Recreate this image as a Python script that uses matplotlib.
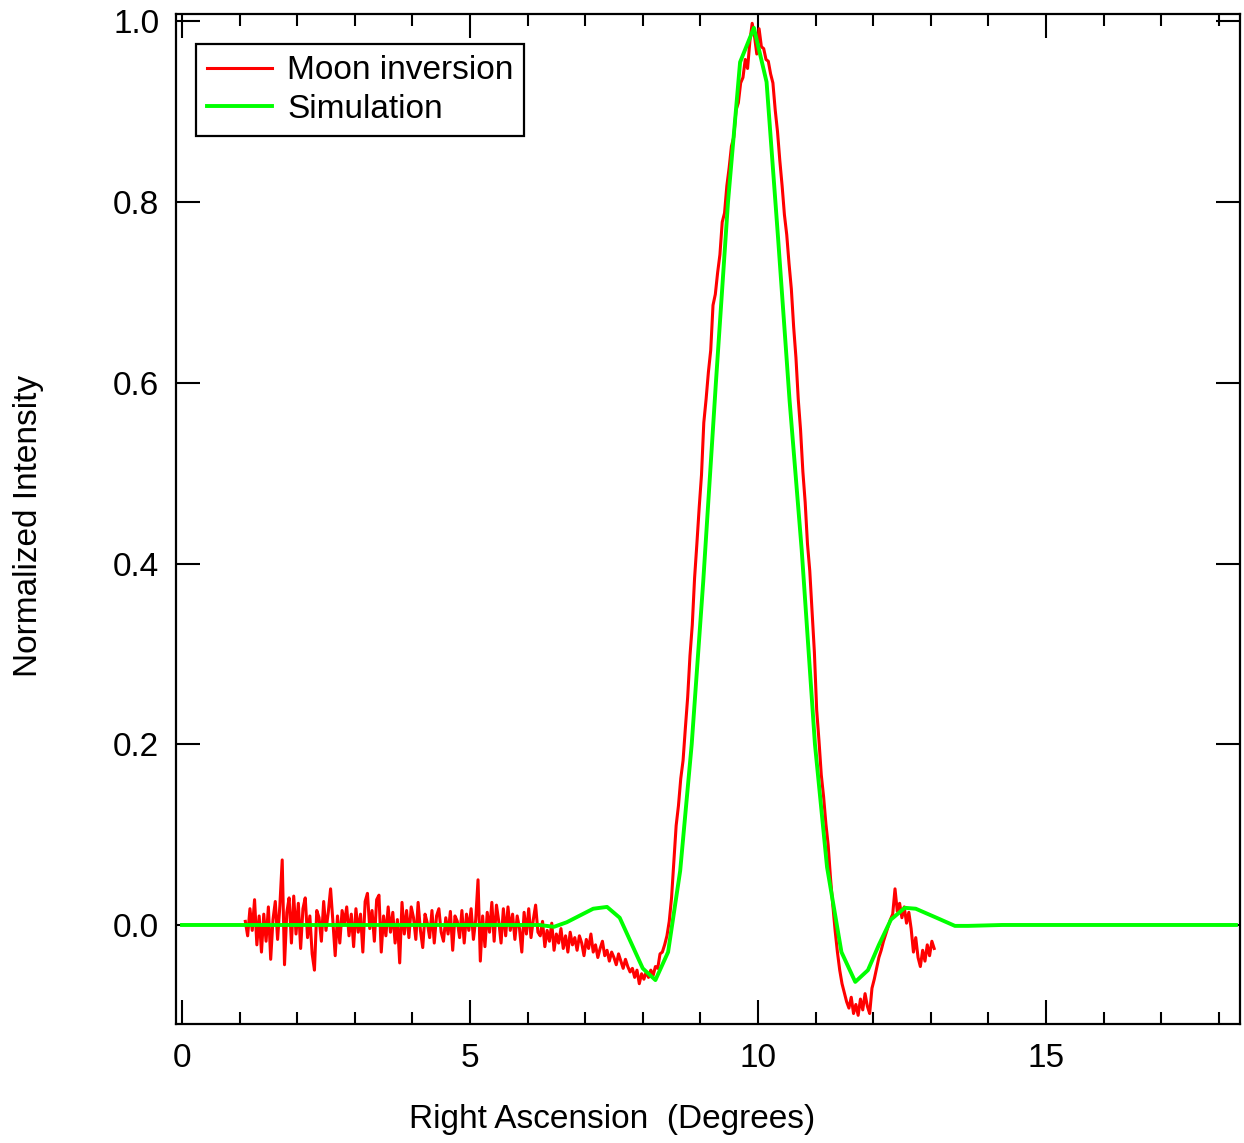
"""
Moon inversion vs simulation profile
"""
import numpy as np
import matplotlib
matplotlib.use("Agg")
import matplotlib.pyplot as plt

# Moon inversion (noisy measured profile), sampled every 0.04 deg from 1.10 to 13.06
moon_base = [  # 1.10 .. 6.18
    0.004, -0.012, 0.018, -0.006, 0.028, -0.022, 0.010, -0.030,
    0.012, -0.018, 0.020, -0.038, 0.006, 0.026, -0.016, 0.022,
    0.072, -0.044, 0.014, 0.030, -0.020, 0.032, -0.010, 0.024,
    -0.026, 0.018, 0.030, -0.014, 0.010, -0.032, -0.050, 0.016,
    0.008, -0.018, 0.026, -0.006, 0.014, 0.040, 0.004, -0.034,
    0.010, -0.020, 0.016, 0.002, 0.020, -0.012, 0.012, -0.024,
    0.018, -0.008, 0.012, -0.030, 0.026, 0.035, -0.004, 0.016,
    -0.018, 0.028, 0.033, -0.030, 0.010, -0.012, 0.020, -0.008,
    0.014, -0.020, 0.006, -0.042, 0.025, -0.010, 0.016, -0.014,
    0.020, 0.008, -0.016, 0.025, -0.006, -0.025, 0.012, 0.002,
    -0.014, 0.016, -0.020, 0.010, 0.018, -0.008, -0.018, 0.008,
    -0.010, 0.015, -0.028, 0.010, 0.004, -0.014, 0.016, -0.020,
    0.012, -0.006, 0.018, -0.016, 0.006, 0.050, -0.040, 0.010,
    -0.024, 0.014, -0.008, 0.025, -0.018, 0.022, 0.004, -0.020,
    0.018, -0.012, 0.020, -0.006, 0.012, -0.016, 0.010, -0.004,
    -0.030, 0.014, -0.010, 0.018, -0.014, 0.006, 0.022, -0.008,
]
moon_drift = [  # 6.22 .. 8.30
    -0.012, 0.004, -0.024, -0.006, -0.018, 0.002, -0.028, -0.010,
    -0.020, -0.004, -0.026, -0.012, -0.030, -0.008, -0.022, -0.014,
    -0.028, -0.012, -0.020, -0.034, -0.016, -0.026, -0.010, -0.030,
    -0.022, -0.036, -0.026, -0.018, -0.034, -0.028, -0.040, -0.030,
    -0.036, -0.044, -0.032, -0.040, -0.048, -0.038, -0.046, -0.052,
    -0.048, -0.058, -0.050, -0.065, -0.054, -0.060, -0.052, -0.058,
    -0.050, -0.056, -0.046, -0.048, -0.032,
]
moon_peak = [  # 8.34 .. 11.38
    -0.030, -0.022, -0.012, 0.004, 0.030, 0.070, 0.110, 0.132,
    0.162, 0.182, 0.218, 0.252, 0.298, 0.332, 0.384, 0.422,
    0.462, 0.498, 0.556, 0.582, 0.612, 0.636, 0.686, 0.698,
    0.722, 0.742, 0.778, 0.788, 0.818, 0.838, 0.862, 0.872,
    0.902, 0.910, 0.932, 0.938, 0.958, 0.948, 0.978, 0.998,
    0.984, 0.964, 0.992, 0.972, 0.970, 0.958, 0.956, 0.942,
    0.932, 0.902, 0.878, 0.846, 0.818, 0.786, 0.764, 0.732,
    0.704, 0.662, 0.628, 0.582, 0.548, 0.502, 0.468, 0.422,
    0.392, 0.346, 0.302, 0.238, 0.204, 0.166, 0.142, 0.112,
    0.088, 0.052, 0.022, -0.006, -0.030,
]
moon_tail = [  # 11.42 .. 13.06
    -0.050, -0.065, -0.075, -0.085, -0.092, -0.080, -0.098, -0.088,
    -0.100, -0.082, -0.094, -0.076, -0.090, -0.098, -0.070, -0.060,
    -0.048, -0.036, -0.028, -0.018, -0.010, -0.002, 0.006, 0.012,
    0.040, 0.015, 0.024, 0.008, 0.020, 0.002, 0.014, -0.004,
    -0.030, -0.014, -0.036, -0.046, -0.028, -0.040, -0.022, -0.034,
    -0.018, -0.026,
]
moon_y = np.array(moon_base + moon_drift + moon_peak + moon_tail)
moon_x = np.linspace(1.10, 13.06, len(moon_y))

# Simulation (coarse profile)
sim_x = [0.0, 6.20, 6.46, 6.68, 7.14, 7.38, 7.60, 8.00, 8.22, 8.44, 8.65,
         8.85, 9.05, 9.27, 9.48, 9.69, 9.93, 10.15, 10.35, 10.55, 10.76,
         10.99, 11.20, 11.45, 11.69, 11.91, 12.10, 12.31, 12.55, 12.74,
         12.92, 13.10, 13.42, 13.65, 14.24, 18.30]
sim_y = [0.0, 0.0, -0.002, 0.003, 0.018, 0.020, 0.008, -0.048, -0.061,
         -0.030, 0.060, 0.200, 0.380, 0.600, 0.800, 0.955, 0.993, 0.933,
         0.760, 0.580, 0.415, 0.200, 0.064, -0.030, -0.063, -0.050, -0.022,
         0.006, 0.019, 0.018, 0.013, 0.008, -0.001, -0.001, 0.0, 0.0]

plt.rcParams['font.family'] = ['Liberation Sans', 'DejaVu Sans']

fig = plt.figure(figsize=(12.44, 11.43), dpi=100)
ax = fig.add_axes([176 / 1244, 1 - 1024 / 1143, 1064 / 1244, 1010 / 1143])

ax.plot(moon_x, moon_y, color='#ff0000', lw=2.2, label='Moon inversion')
ax.plot(sim_x, sim_y, color='#00ff00', lw=2.8, label='Simulation')

ax.set_xlim(-0.104, 18.37)
ax.set_ylim(-0.1096, 1.0083)

ax.set_xticks([0, 5, 10, 15])
ax.set_xticks(np.arange(0, 19), minor=True)
ax.set_yticks([0.0, 0.2, 0.4, 0.6, 0.8, 1.0])
ax.set_yticklabels(['0.0', '0.2', '0.4', '0.6', '0.8', '1.0'])

ax.tick_params(which='both', direction='in', top=True, right=True, width=1.5)
ax.tick_params(which='major', length=17)
ax.tick_params(which='minor', length=8.5)
ax.tick_params(axis='x', which='major', labelsize=24, pad=14)
ax.tick_params(axis='y', which='major', labelsize=24, pad=12)
for sp in ax.spines.values():
    sp.set_linewidth(1.6)

ax.set_xlabel('Right Ascension  (Degrees)', fontsize=24)
ax.xaxis.set_label_coords(0.41, -0.079)
ax.set_ylabel('Normalized Intensity', fontsize=24)
ax.yaxis.set_label_coords(-0.124, 0.493)

leg = ax.legend(loc='upper left', bbox_to_anchor=(0.0188, 0.970),
                borderaxespad=0, fontsize=24, handlelength=1.95,
                handletextpad=0.45, labelspacing=0.23, borderpad=0.33,
                fancybox=False, framealpha=1, edgecolor='black')
leg.get_frame().set_linewidth(1.6)

fig.savefig('out.png', dpi=100)
